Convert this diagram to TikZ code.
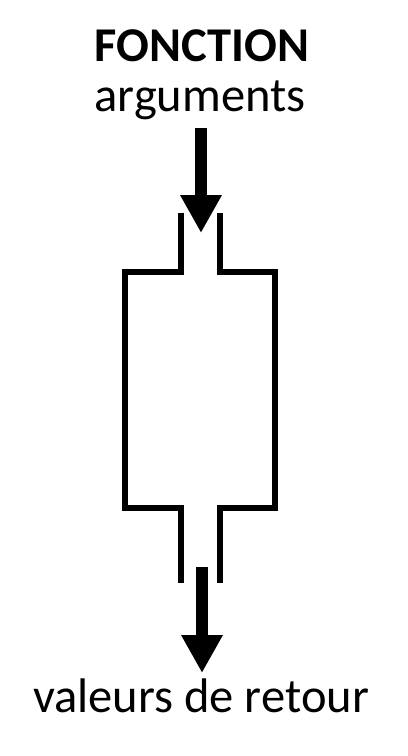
\documentclass[tikz,border=0pt]{standalone}
\usepackage{fontspec}
\setmainfont{Carlito}
\usetikzlibrary{arrows.meta}
\tikzset{
  label/.style={font=\fontsize{36.4pt}{40pt}\selectfont, anchor=base, inner sep=0pt},
  flow/.style={line width=9.5pt, -{Triangle[width=29.25pt,length=28.5pt]}},
  wall/.style={line width=4.5pt, miter limit=10}
}
\begin{document}
\begin{tikzpicture}[x=0.75pt,y=-0.75pt]
      \useasboundingbox (0,0) rectangle (407,756);
      \draw
        (202,62) node[label] (fonction){\textbf{FONCTION}}
        (200,112) node[label] (args){arguments}
        (201,712) node[label] (retour){valeurs de retour};
      \coordinate (in1) at (201,128);
      \coordinate (in2) at (201,233);
      \coordinate (out1) at (202,567);
      \coordinate (out2) at (202,673);
      \begin{scope}[wall]
        \draw (181,213) -- (181,272) -- (125,272) -- (125,508) -- (181,508) -- (181,583);
        \draw (220,213) -- (220,272) -- (275,272) -- (275,508) -- (220,508) -- (220,583);
      \end{scope}
      \draw[flow] (in1) to (in2);
      \draw[flow] (out1) to (out2);
    \end{tikzpicture}
\end{document}
